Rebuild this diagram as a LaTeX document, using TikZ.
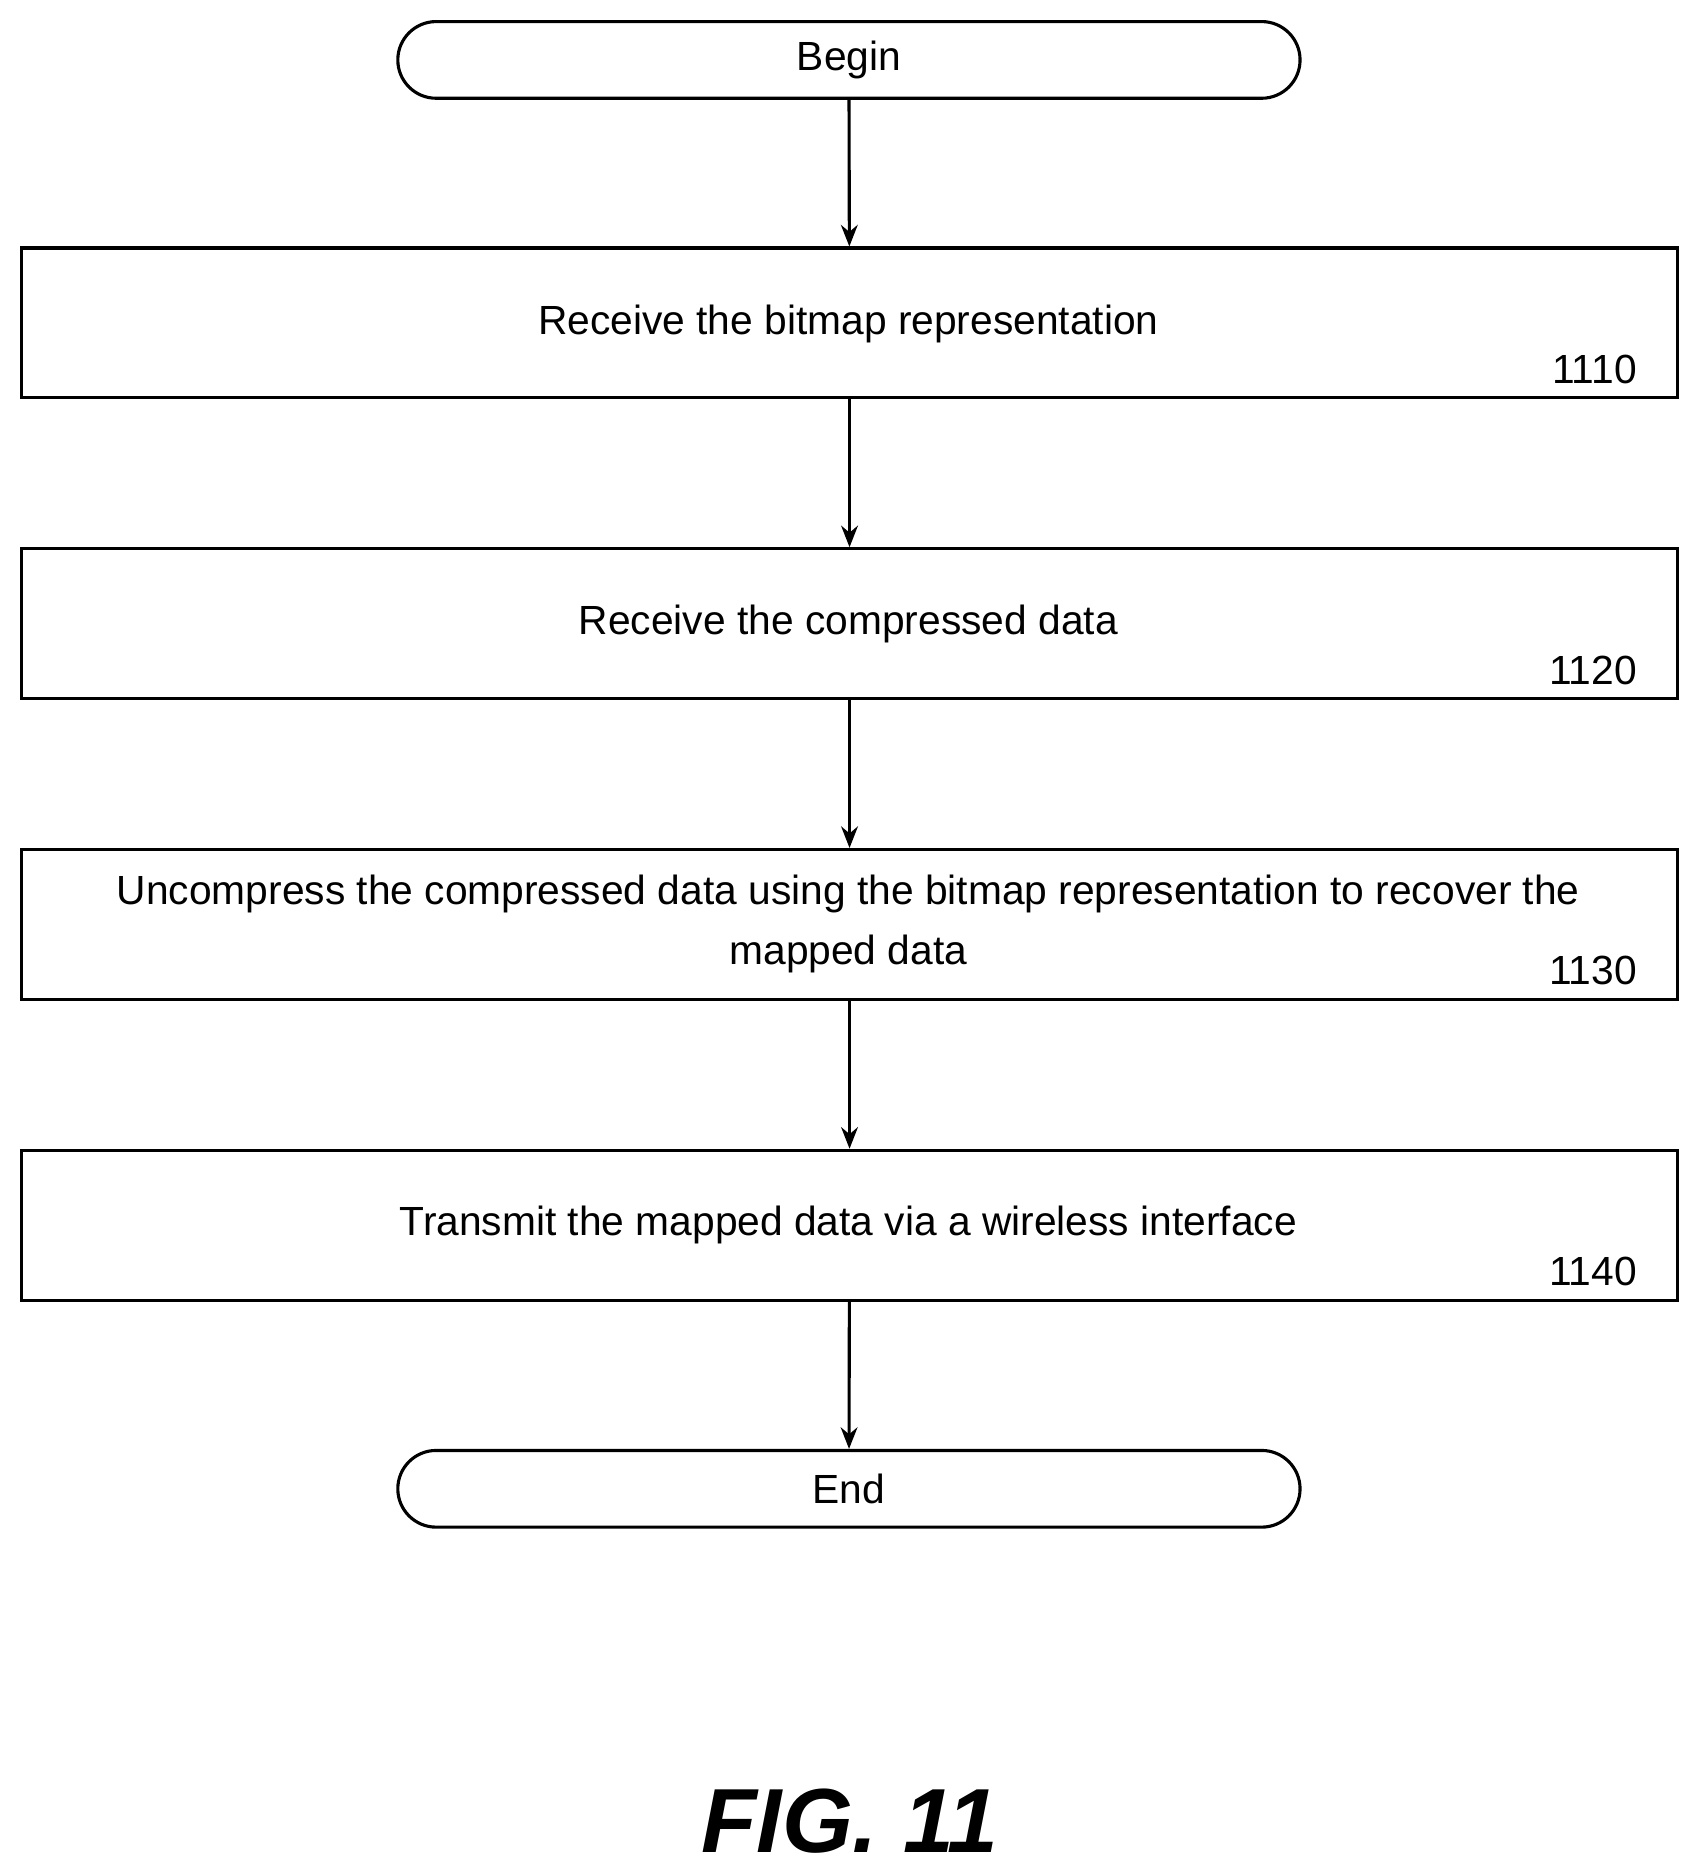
\documentclass[tikz,border=0pt]{standalone}
\usepackage{fontspec}
\setmainfont{Liberation Sans}
\usetikzlibrary{arrows.meta}
\begin{document}
\begin{tikzpicture}[x=0.5pt,y=-0.5pt,
  box/.style={draw,line width=1.3pt,minimum width=691pt,minimum height=62.5pt,inner sep=0pt,font=\fontsize{17}{20}\selectfont,align=center},
  term/.style={draw,line width=1.3pt,rounded corners=16pt,minimum width=376.5pt,minimum height=32pt,inner sep=0pt,font=\fontsize{17}{20}\selectfont},
  num/.style={font=\fontsize{17}{20}\selectfont,anchor=base east},
  arr/.style={line width=1.3pt,-{Stealth[length=9pt,width=7pt]}}]
\useasboundingbox (0,0) rectangle (1415,1564);
\node[term] (b) at (708.5,50) {Begin};
\node[box] (s1) at (709,269.5) {};
\node at (708,270) [font=\fontsize{17}{20}\selectfont] (t1) {Receive the bitmap representation};
\node[num] (n1) at (1373,320) {1110};
\node[box] (s2) at (709,520.5) {};
\node at (708,521) [font=\fontsize{17}{20}\selectfont] (t2) {Receive the compressed data};
\node[num] (n2) at (1373,571) {1120};
\node[box] (s3) at (709,771.5) {};
\node at (708,771) [font=\fontsize{17}{25}\selectfont,align=center] (t3) {Uncompress the compressed data using the bitmap representation to recover the\\mapped data};
\node[num] (n3) at (1373,822) {1130};
\node[box] (s4) at (709,1022.5) {};
\node at (708,1022) [font=\fontsize{17}{20}\selectfont] (t4) {Transmit the mapped data via a wireless interface};
\node[num] (n4) at (1373,1073) {1140};
\node[term] (e) at (708.5,1242.5) {End};
\node (fig) at (709,1520) {\fontsize{38}{40}\selectfont\bfseries\itshape FIG. 11};
\draw[arr] (b) -- (s1);
\draw[arr] (s1) -- (s2);
\draw[arr] (s2) -- (s3);
\draw[arr] (s3) -- (s4);
\draw[arr] (s4) -- (e);
\end{tikzpicture}
\end{document}
